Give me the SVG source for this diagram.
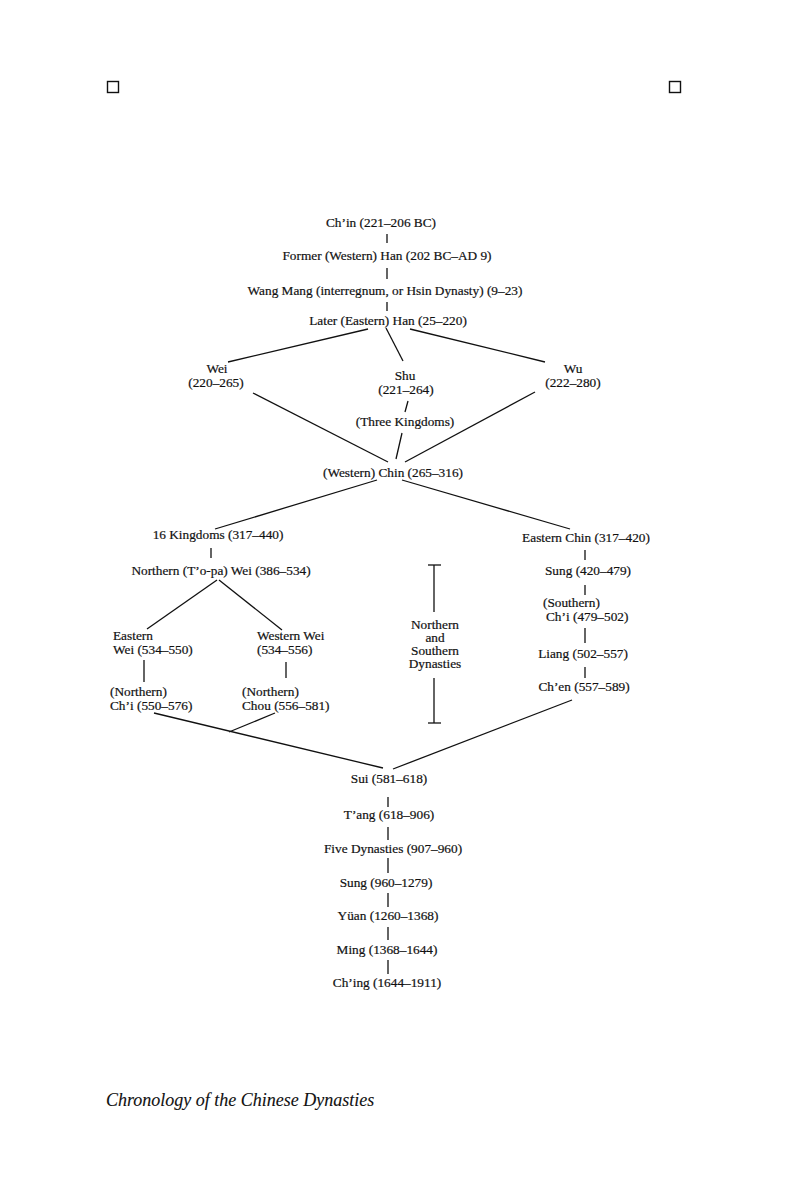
<svg xmlns="http://www.w3.org/2000/svg" width="801" height="1201" viewBox="0 0 801 1201">
<style>
text{font-family:"Liberation Serif","Times New Roman",serif;font-size:13.3px;fill:#111;stroke:#111;stroke-width:0.2}
.c{text-anchor:middle}
.cap{font-size:18px;font-style:italic;stroke-width:0.1}
#connectors line{stroke:#111;stroke-width:1.3;fill:none}
.box{fill:none;stroke:#111;stroke-width:1.4}
</style>
<rect width="801" height="1201" fill="#fff"/>
<rect class="box" x="107.5" y="81.5" width="11" height="11"/>
<rect class="box" x="669.5" y="81.5" width="11" height="11"/>
<g id="connectors">
<line x1="387" y1="234" x2="387" y2="243"/>
<line x1="387" y1="268" x2="387" y2="279"/>
<line x1="387" y1="302" x2="387" y2="311"/>
<line x1="368" y1="329" x2="228" y2="362"/>
<line x1="386" y1="328" x2="403" y2="361"/>
<line x1="410" y1="329" x2="545" y2="362"/>
<line x1="253" y1="393" x2="388" y2="462"/>
<line x1="408" y1="401" x2="405" y2="412"/>
<line x1="402" y1="433" x2="396" y2="459"/>
<line x1="535" y1="392" x2="405" y2="462"/>
<line x1="377" y1="480" x2="215" y2="529"/>
<line x1="402" y1="480" x2="570" y2="529"/>
<line x1="211" y1="548" x2="211" y2="558"/>
<line x1="217" y1="580" x2="147" y2="629"/>
<line x1="219" y1="580" x2="282" y2="630"/>
<line x1="144" y1="660" x2="144" y2="682"/>
<line x1="286" y1="662" x2="286" y2="678"/>
<line x1="154" y1="713" x2="383" y2="768"/>
<line x1="275" y1="713" x2="229" y2="732"/>
<line x1="572" y1="700" x2="393" y2="769"/>
<line x1="585" y1="550" x2="585" y2="560"/>
<line x1="585" y1="585" x2="585" y2="595"/>
<line x1="585" y1="628" x2="585" y2="643"/>
<line x1="585" y1="667" x2="585" y2="678"/>
<line x1="434" y1="565" x2="434" y2="612"/>
<line x1="434" y1="678" x2="434" y2="723"/>
<line x1="428" y1="565" x2="441" y2="565"/>
<line x1="428" y1="723" x2="441" y2="723"/>
<line x1="388" y1="797" x2="388" y2="807"/>
<line x1="388" y1="827" x2="388" y2="840"/>
<line x1="388" y1="858" x2="388" y2="873"/>
<line x1="388" y1="893" x2="388" y2="907"/>
<line x1="388" y1="927" x2="388" y2="940"/>
<line x1="388" y1="960" x2="388" y2="974"/>
</g>
<g id="chin"><text class="c" x="381" y="227">Ch’in (221–206 BC)</text></g>
<g id="former-han"><text class="c" x="387" y="260">Former (Western) Han (202 BC–AD 9)</text></g>
<g id="wang-mang"><text class="c" x="385" y="295">Wang Mang (interregnum, or Hsin Dynasty) (9–23)</text></g>
<g id="later-han"><text class="c" x="388" y="325">Later (Eastern) Han (25–220)</text></g>
<g id="wei"><text class="c" x="217" y="373">Wei</text><text class="c" x="216" y="387">(220–265)</text></g>
<g id="shu"><text class="c" x="405" y="380">Shu</text><text class="c" x="406" y="394">(221–264)</text></g>
<g id="wu"><text class="c" x="573" y="373">Wu</text><text class="c" x="573" y="387">(222–280)</text></g>
<g id="three-kingdoms"><text class="c" x="405" y="426">(Three Kingdoms)</text></g>
<g id="western-chin"><text class="c" x="393" y="477">(Western) Chin (265–316)</text></g>
<g id="sixteen-kingdoms"><text class="c" x="218" y="539">16 Kingdoms (317–440)</text></g>
<g id="northern-wei"><text class="c" x="221" y="575">Northern (T’o-pa) Wei (386–534)</text></g>
<g id="eastern-wei"><text x="113" y="640">Eastern</text><text x="113" y="654">Wei (534–550)</text></g>
<g id="western-wei"><text x="257" y="640">Western Wei</text><text x="257" y="654">(534–556)</text></g>
<g id="northern-chi"><text x="110" y="696">(Northern)</text><text x="110" y="710">Ch’i (550–576)</text></g>
<g id="northern-chou"><text x="242" y="696">(Northern)</text><text x="242" y="710">Chou (556–581)</text></g>
<g id="eastern-chin"><text class="c" x="586" y="542">Eastern Chin (317–420)</text></g>
<g id="sung-south"><text class="c" x="588" y="575">Sung (420–479)</text></g>
<g id="southern-chi"><text x="543" y="607">(Southern)</text><text x="546" y="621">Ch’i (479–502)</text></g>
<g id="liang"><text class="c" x="583" y="658">Liang (502–557)</text></g>
<g id="chen"><text class="c" x="584" y="691">Ch’en (557–589)</text></g>
<g id="north-south-label"><text class="c" x="435" y="629">Northern</text><text class="c" x="435" y="642">and</text><text class="c" x="435" y="655">Southern</text><text class="c" x="435" y="668">Dynasties</text></g>
<g id="sui"><text class="c" x="389" y="783">Sui (581–618)</text></g>
<g id="tang"><text class="c" x="389" y="819">T’ang (618–906)</text></g>
<g id="five-dynasties"><text class="c" x="393" y="853">Five Dynasties (907–960)</text></g>
<g id="sung"><text class="c" x="386" y="887">Sung (960–1279)</text></g>
<g id="yuan"><text class="c" x="388" y="920">Yüan (1260–1368)</text></g>
<g id="ming"><text class="c" x="387" y="954">Ming (1368–1644)</text></g>
<g id="ching"><text class="c" x="387" y="987">Ch’ing (1644–1911)</text></g>
<text class="cap" x="106" y="1106">Chronology of the Chinese Dynasties</text>
</svg>
